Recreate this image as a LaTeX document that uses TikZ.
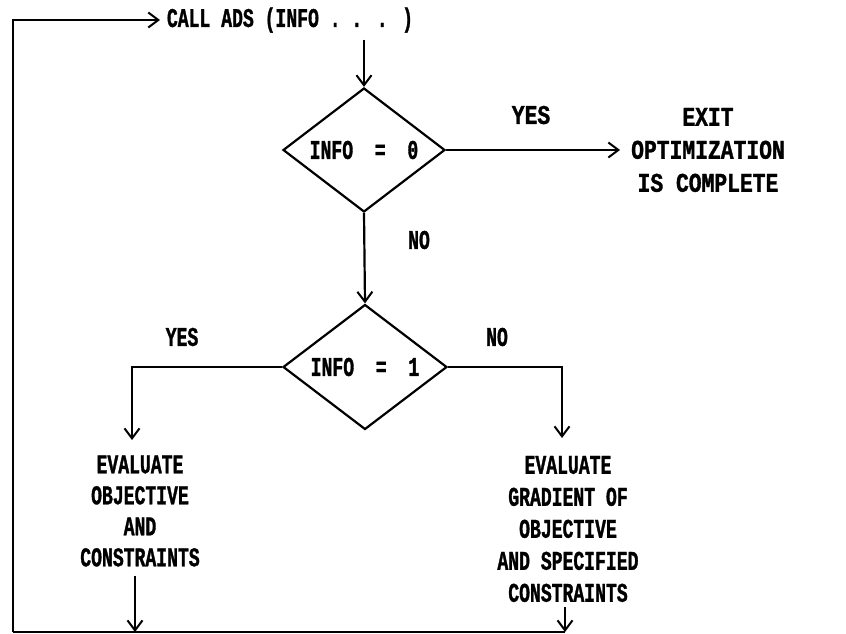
\documentclass[tikz,border=0pt]{standalone}
\usepackage{fontspec}
\newfontfamily\tw{Liberation Mono}[FakeStretch=0.67,FakeBold=1.2]
\newfontfamily\twwide{Liberation Mono}[FakeStretch=0.79,FakeBold=1.2]
\usetikzlibrary{shapes.geometric,arrows.meta}
\begin{document}
\begin{tikzpicture}[x=1pt,y=-1pt,line width=2.2pt,line join=miter,
  arr/.style={-{Straight Barb[length=10pt,width=15pt,line width=2pt]}},
  txt/.style={font=\tw\bfseries\fontsize{27}{31}\selectfont,align=center,inner sep=0pt},
  txtw/.style={font=\twwide\bfseries\fontsize{27}{33}\selectfont,align=center,inner sep=0pt},
  dia/.style={draw,diamond,aspect=1.3,minimum width=162pt,minimum height=124pt,inner sep=0pt,
    font=\tw\bfseries\fontsize{27}{31}\selectfont}]
\useasboundingbox (0,0) rectangle (846,634);
\node[txt,outer sep=7pt] (call) at (290,20) {CALL ADS (INFO . . . )};
\node[dia] (d1) at (364,150) {INFO\ \ =\ \ 0};
\node[dia,minimum width=164pt,minimum height=125pt] (d2) at (365,367) {INFO\ \ =\ \ 1};
\node[txtw] (exit) at (708,150) {EXIT\\OPTIMIZATION\\IS COMPLETE};
\node[txtw] (yes1) at (531,115) {YES};
\node[txt] (no1) at (419,240) {NO};
\node[txt] (yes2) at (182,337) {YES};
\node[txt] (no2) at (497,337) {NO};
\node[txt] (left) at (140,511) {EVALUATE\\OBJECTIVE\\AND\\CONSTRAINTS};
\node[txt,font=\tw\bfseries\fontsize{27}{32}\selectfont] (right) at (568,529) {EVALUATE\\GRADIENT OF\\OBJECTIVE\\AND SPECIFIED\\CONSTRAINTS};
\coordinate (tl) at (13,20);
\coordinate (bl) at (13,632);
\coordinate (la) at (132,440);
\coordinate (ra) at (562,438);
\coordinate (lb) at (135,632);
\coordinate (rb) at (565,632);
\coordinate (exitin) at (620,152);
% connectors
\draw[arr] (bl) -- (tl) -- (call.west);
\draw[arr] (d1.north |- call.south) -- (d1.north);
\draw[arr] (d1.east) -- (d1.east -| exitin);
\draw[arr] (d1.south) -- (d2.north);
\draw[arr] (d2.west) -| (la);
\draw[arr] (d2.east) -| (ra);
\draw[arr] ([yshift=-8pt]left.south -| lb) -- (lb);
\draw[arr] ([yshift=-4pt]right.south -| rb) -- (rb);
\draw (bl) -- (rb);
\end{tikzpicture}
\end{document}
